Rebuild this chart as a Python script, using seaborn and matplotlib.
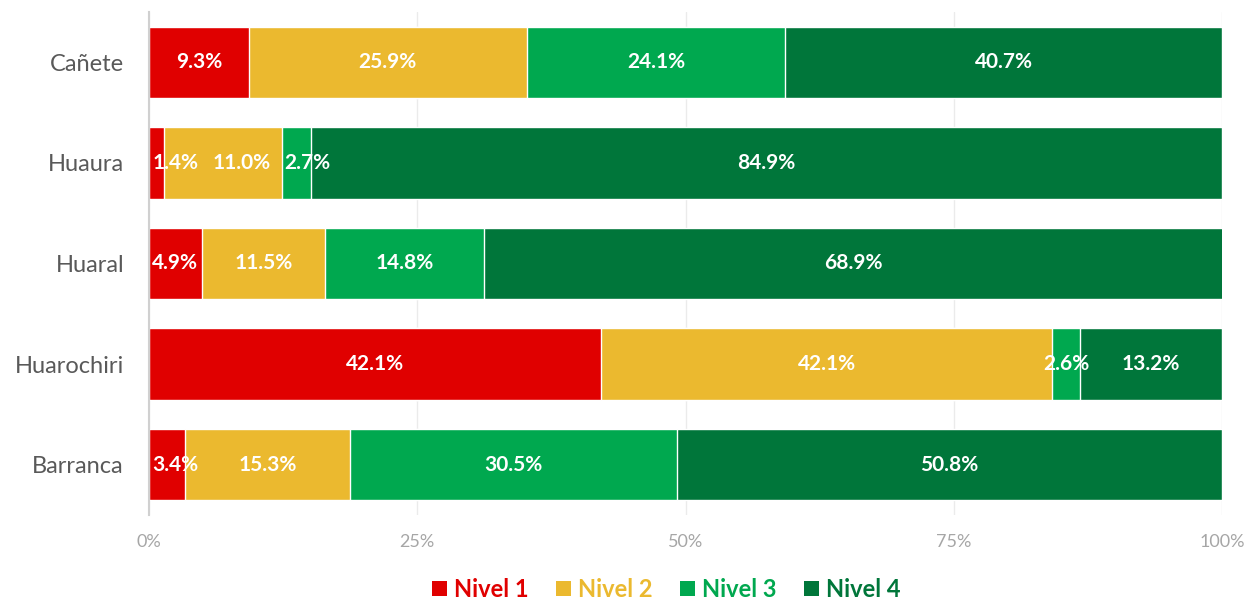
import matplotlib
matplotlib.use("Agg")
import matplotlib.pyplot as plt
import seaborn as sns
import numpy as np
import pandas as pd
from matplotlib.patches import Patch

provincias = ["Cañete", "Huaura", "Huaral", "Huarochiri", "Barranca"]
niveles = ["Nivel 1", "Nivel 2", "Nivel 3", "Nivel 4"]
nivel_1 = [9.3, 1.4, 4.9, 42.1, 3.4]
nivel_2 = [25.9, 11.0, 11.5, 42.1, 15.3]
nivel_3 = [24.1, 2.7, 14.8, 2.6, 30.5]
nivel_4 = [40.7, 84.9, 68.9, 13.2, 50.8]
colores = ["#E00000", "#EBB92F", "#00A84F", "#00763A"]
xticks = [0, 25, 50, 75, 100]

sns.set_theme(style="white")
plt.rcParams["font.family"] = ["Lato", "DejaVu Sans"]

fig = plt.figure(figsize=(12.5, 6.05), dpi=100)
ax = fig.add_axes([0.1192, 0.149, 0.8584, 0.831])

valores = np.array([nivel_1, nivel_2, nivel_3, nivel_4])
acum = np.cumsum(valores, axis=0)

# stacked bars: draw cumulative totals from the widest down
for i in range(3, -1, -1):
    df = pd.DataFrame({"provincia": provincias, "valor": acum[i]})
    sns.barplot(data=df, x="valor", y="provincia", color=colores[i],
                orient="h", width=0.71, saturation=1, ax=ax, zorder=3)

ax.set_xlim(0, 100)
ax.set_ylim(4.5, -0.5)

etiquetas = [[] for _ in provincias]
for i in range(4):
    for j, prov in enumerate(provincias):
        v = valores[i, j]
        left = acum[i, j] - v
        cx = left + v / 2
        ha = "center"
        if cx < 2.0:
            cx = left + 0.3
            ha = "left"
        t = ax.text(cx, j, f"{v:.1f}%", ha=ha, va="center", color="white",
                    fontsize=15, fontweight="bold", zorder=5)
        etiquetas[j].append(t)

# push overlapping labels to the right, like the spreadsheet does
fig.canvas.draw()
r = fig.canvas.get_renderer()
px_per_unit = ax.get_window_extent().width / 100
for fila in etiquetas:
    prev_x1 = None
    for t in fila:
        bb = t.get_window_extent(r)
        if prev_x1 is not None and bb.x0 < prev_x1 + 14:
            shift = (prev_x1 + 14 - bb.x0) / px_per_unit
            x, y = t.get_position()
            t.set_position((x + shift, y))
            bb = t.get_window_extent(r)
        prev_x1 = bb.x1

ax.set_xticks(xticks)
ax.set_xticklabels([f"{t}%" for t in xticks])
ax.tick_params(axis="x", colors="#A6A6A6", labelsize=13, pad=14, length=0)
ax.tick_params(axis="y", colors="#595959", labelsize=17, pad=18, length=0)
ax.set_xlabel("")
ax.set_ylabel("")
ax.grid(axis="x", color="#EBEBEB", linewidth=1, zorder=0)
ax.grid(axis="y", visible=False)
for s in ["top", "right", "bottom"]:
    ax.spines[s].set_visible(False)
ax.spines["left"].set_color("#D0D0D0")
ax.spines["left"].set_linewidth(1.5)
ax.spines["left"].set_zorder(6)

handles = [Patch(facecolor=c, edgecolor="none") for c in colores]
leg = fig.legend(handles, niveles, loc="lower center", ncol=4, frameon=False,
                 bbox_to_anchor=(0.533, -0.028), handlelength=0.65, handleheight=0.65,
                 handletextpad=0.3, columnspacing=1.15,
                 prop={"size": 17, "weight": "bold"})
for txt, c in zip(leg.get_texts(), colores):
    txt.set_color(c)

fig.savefig("out.png", dpi=100)
